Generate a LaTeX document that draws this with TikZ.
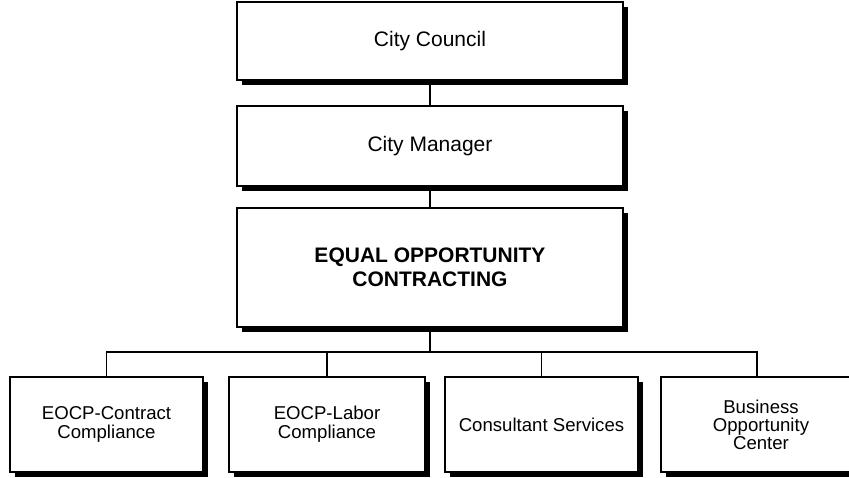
\documentclass[tikz,border=0pt]{standalone}
\usepackage{fontspec}
\setmainfont{Liberation Sans}
\usetikzlibrary{shadows}
\begin{document}
\begin{tikzpicture}[x=1pt,y=-1pt,
  orgbox/.style={draw=black, fill=white, line width=1.3pt, inner sep=2pt, align=center,
    drop shadow={shadow xshift=4.5pt, shadow yshift=-4.5pt, fill=black, opacity=1}},
  topbox/.style={orgbox, minimum width=386pt, font=\fontsize{21}{24}\selectfont},
  subbox/.style={orgbox, minimum height=95pt, font=\fontsize{18.6}{19}\selectfont},
  link/.style={draw=black, line width=1.3pt}]
\useasboundingbox (0,0) rectangle (849,477);
\clip (0,0) rectangle (849,477);
\node[topbox, minimum height=78pt] (council) at (430,41) {City Council};
\node[topbox, minimum height=80pt] (manager) at (430,146) {City Manager};
\node[topbox, minimum height=119pt, font=\fontsize{21}{24}\selectfont\bfseries] (eocp) at (430,267.5) {EQUAL OPPORTUNITY\\CONTRACTING};
\node[subbox, minimum width=193pt] (c1) at (106.5,424.5) {EOCP-Contract\\Compliance};
\node[subbox, minimum width=196pt] (c2) at (327,424.5) {EOCP-Labor\\Compliance};
\node[subbox, minimum width=193pt] (c3) at (541.5,424.5) {Consultant Services};
\node[subbox, minimum width=200pt, font=\fontsize{18.6}{18}\selectfont] (c4) at (761,424.5) {Business\\Opportunity\\Center};
\coordinate (bus) at (430,352);
\draw[link] (council.south) -- (manager.north);
\draw[link] (manager.south) -- (eocp.north);
\draw[link] (eocp.south) -- (bus);
\draw[link] (bus) -| (c1.north);
\draw[link] (bus) -| (c2.north);
\draw[link] (bus) -| (c3.north);
\draw[link] (bus) -| ([xshift=-4pt]c4.north);
\end{tikzpicture}
\end{document}
